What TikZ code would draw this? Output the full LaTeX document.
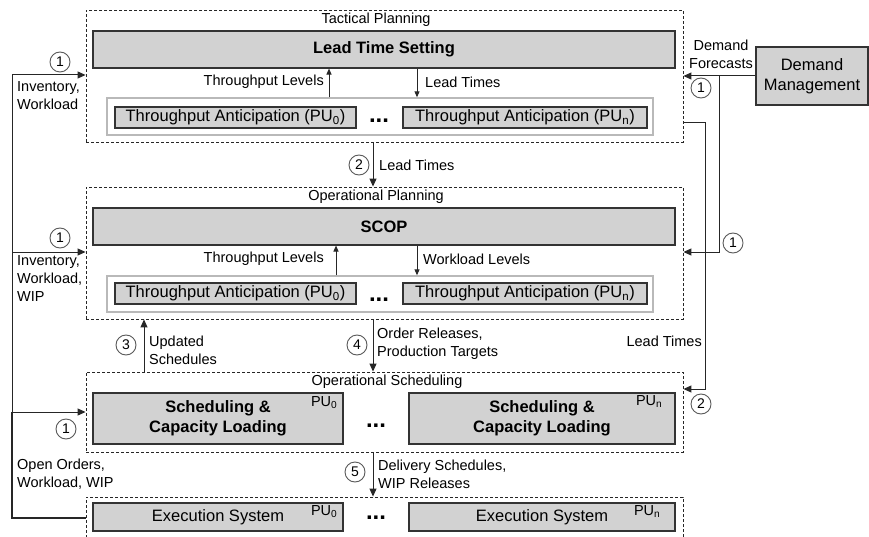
\documentclass[tikz,border=0pt]{standalone}
\usepackage{fontspec}
\setmainfont{Liberation Sans}
\usetikzlibrary{arrows.meta,calc}
\tikzset{
 sz/.style 2 args={minimum width=#1, minimum height=#2},
 dbox/.style={draw=black!85, dash pattern=on 3pt off 2pt, line width=0.9pt, inner sep=0pt},
 gbox/.style={draw=black!80, fill=gray!35, line width=1.1pt, inner sep=0pt},
 wbox/.style={draw=gray!55, line width=1.4pt, inner sep=0pt},
 big/.style={font=\fontsize{16.5}{20}\selectfont},
 bigb/.style={font=\fontsize{16.5}{20}\selectfont\bfseries, align=center},
 lbl/.style={font=\fontsize{14.5}{18}\selectfont, inner sep=0pt, align=left},
 num/.style={circle, draw=black!65, line width=0.9pt, minimum size=20pt, inner sep=0pt, font=\fontsize{14}{14}\selectfont},
 arr/.style={draw=black!85, line width=1pt, -{Triangle[length=8pt,width=7pt]}},
 sarr/.style={draw=black!85, line width=1pt, -{Triangle[length=6pt,width=5pt]}},
 ln/.style={draw=black!85, line width=1pt},
 dotsn/.style={font=\fontsize{24}{24}\selectfont\bfseries, inner sep=0pt, anchor=base},
 pu/.style={font=\fontsize{14.5}{14.5}\selectfont, inner sep=0pt, anchor=north east},
}
\begin{document}
\begin{tikzpicture}[x=1pt,y=-1pt]
\clip (0,0) rectangle (869,537);
\fill[white] (0,0) rectangle (869,537);

% ---- Tactical planning
\node[dbox, sz={597pt}{132pt}] (tac) at (384.5,76) {};
\node[lbl] (tact) at (376,20) {Tactical Planning};
\node[gbox, bigb, sz={582pt}{37pt}] (lts) at (384,49.5) {Lead Time Setting};
\node[wbox, sz={546pt}{37pt}] (tin) at (380,116.5) {};
\node[gbox, big, sz={241pt}{21pt}] (ta1) at (235.5,117.5) {Throughput Anticipation (PU\textsubscript{0})};
\node[gbox, big, sz={244pt}{21pt}] (ta2) at (525,117.5) {Throughput Anticipation (PU\textsubscript{n})};
\node[dotsn] (d1) at (379,123) {...};
\coordinate (tl1) at (329,0);
\draw[sarr] (tl1 |- tin.north) -- (tl1 |- lts.south);
\node[lbl, anchor=east] (tl1t) at (324,82) {Throughput Levels};
\coordinate (lt1) at (417,0);
\draw[sarr] (lt1 |- lts.south) -- (lt1 |- tin.north);
\node[lbl, anchor=west] (lt1t) at (425,82) {Lead Times};

% ---- Operational planning
\node[dbox, sz={597pt}{132pt}] (opl) at (384.5,253) {};
\node[lbl] (oplt) at (376,197) {Operational Planning};
\node[gbox, bigb, sz={582pt}{37pt}] (scop) at (384,226.5) {SCOP};
\node[wbox, sz={546pt}{36pt}] (pin) at (380,294) {};
\node[gbox, big, sz={241pt}{21pt}] (pa1) at (235.5,293.5) {Throughput Anticipation (PU\textsubscript{0})};
\node[gbox, big, sz={244pt}{21pt}] (pa2) at (525,293.5) {Throughput Anticipation (PU\textsubscript{n})};
\node[dotsn] (d2) at (379,301) {...};
\coordinate (tl2) at (336,0);
\draw[sarr] (tl2 |- pin.north) -- (tl2 |- scop.south);
\node[lbl, anchor=east] (tl2t) at (324,259) {Throughput Levels};
\coordinate (wl) at (417,0);
\draw[sarr] (wl |- scop.south) -- (wl |- pin.north);
\node[lbl, anchor=west] (wlt) at (423,259) {Workload Levels};

% ---- arrow 2
\coordinate (c2) at (373,0);
\draw[arr] (c2 |- tac.south) -- (c2 |- opl.north);
\node[num] (n2) at (359,165) {2};
\node[lbl, anchor=west] (n2t) at (379,165) {Lead Times};

% ---- Operational scheduling
\node[dbox, sz={597pt}{80pt}] (osch) at (384.5,412) {};
\node[lbl] (oscht) at (387,382) {Operational Scheduling};
\node[gbox, bigb, sz={250pt}{51pt}] (sc1) at (218,418.5) {Scheduling \&\\Capacity Loading};
\node[gbox, bigb, sz={266pt}{51pt}] (sc2) at (542,418.5) {Scheduling \&\\Capacity Loading};
\node[pu] (sc1p) at ($(sc1.north east)+(-6,4)$) {PU\textsubscript{0}};
\node[pu] (sc2p) at ($(sc2.north east)+(-13,3)$) {PU\textsubscript{n}};
\node[dotsn] (d3) at (376,427) {...};

% ---- arrows 3 and 4
\coordinate (c3) at (144,0);
\draw[arr] (c3 |- osch.north) -- (c3 |- opl.south);
\node[num] (n3) at (126,345) {3};
\node[lbl, anchor=west] (n3t) at (149,350) {Updated\\Schedules};
\draw[arr] (c2 |- opl.south) -- (c2 |- osch.north);
\node[num] (n4) at (357,345) {4};
\node[lbl, anchor=west] (n4t) at (377,344) {Order Releases,\\Production Targets};

% ---- Execution
\node[dbox, sz={597pt}{73pt}] (exe) at (384.5,533.5) {};
\node[gbox, big, sz={250pt}{28pt}] (ex1) at (218,517) {Execution System};
\node[gbox, big, sz={266pt}{28pt}] (ex2) at (542,517) {Execution System};
\node[pu] (ex1p) at ($(ex1.north east)+(-6,3)$) {PU\textsubscript{0}};
\node[pu] (ex2p) at ($(ex2.north east)+(-15,3)$) {PU\textsubscript{n}};
\node[dotsn] (d4) at (376,519) {...};

% ---- arrow 5
\draw[arr] (c2 |- osch.south) -- (c2 |- exe.north);
\node[num] (n5) at (355,472) {5};
\node[lbl, anchor=west] (n5t) at (378,474) {Delivery Schedules,\\WIP Releases};

% ---- left feedback
\coordinate (Lb) at (12,518);
\coordinate (Ls) at (12,412);
\coordinate (Lm) at (12,252);
\coordinate (Lt) at (12,75);
\draw[ln, line width=2pt] (Lb -| exe.west) -- (Lb) -- (Ls);
\draw[arr] (Ls) -- (Lt) -- (Lt -| tac.west);
\draw[arr] (Lm) -- (Lm -| opl.west);
\draw[arr] (Ls) -- (Ls -| osch.west);
\node[num] (l1) at (60,62) {1};
\node[lbl, anchor=north west] (l1t) at (17,81) {Inventory,\\Workload};
\node[num] (l2) at (60,238) {1};
\node[lbl, anchor=north west] (l2t) at (17,255) {Inventory,\\Workload,\\WIP};
\node[num] (l3) at (66,429) {1};
\node[lbl, anchor=north west] (l3t) at (17,459) {Open Orders,\\Workload, WIP};

% ---- right side
\node[gbox, big, align=center, sz={112pt}{58pt}] (dm) at (812,76) {Demand\\Management};
\draw[arr] (dm.west) -- (dm.west -| tac.east);
\node[lbl, align=center] (dft) at (721,54) {Demand\\Forecasts};
\node[num] (r1) at (701,88) {1};
\coordinate (Rv) at (719,76);
\coordinate (Rb) at (719,252);
\draw[arr] (Rv) -- (Rb) -- (Rb -| opl.east);
\node[num] (r2) at (733,243) {1};
\coordinate (Q1) at (705,123);
\coordinate (Q2) at (705,389);
\draw[arr] (Q1 -| tac.east) -- (Q1) -- (Q2) -- (Q2 -| osch.east);
\node[num] (r3) at (701,404) {2};
\node[lbl, anchor=east] (r3t) at (702,341) {Lead Times};
\end{tikzpicture}
\end{document}
